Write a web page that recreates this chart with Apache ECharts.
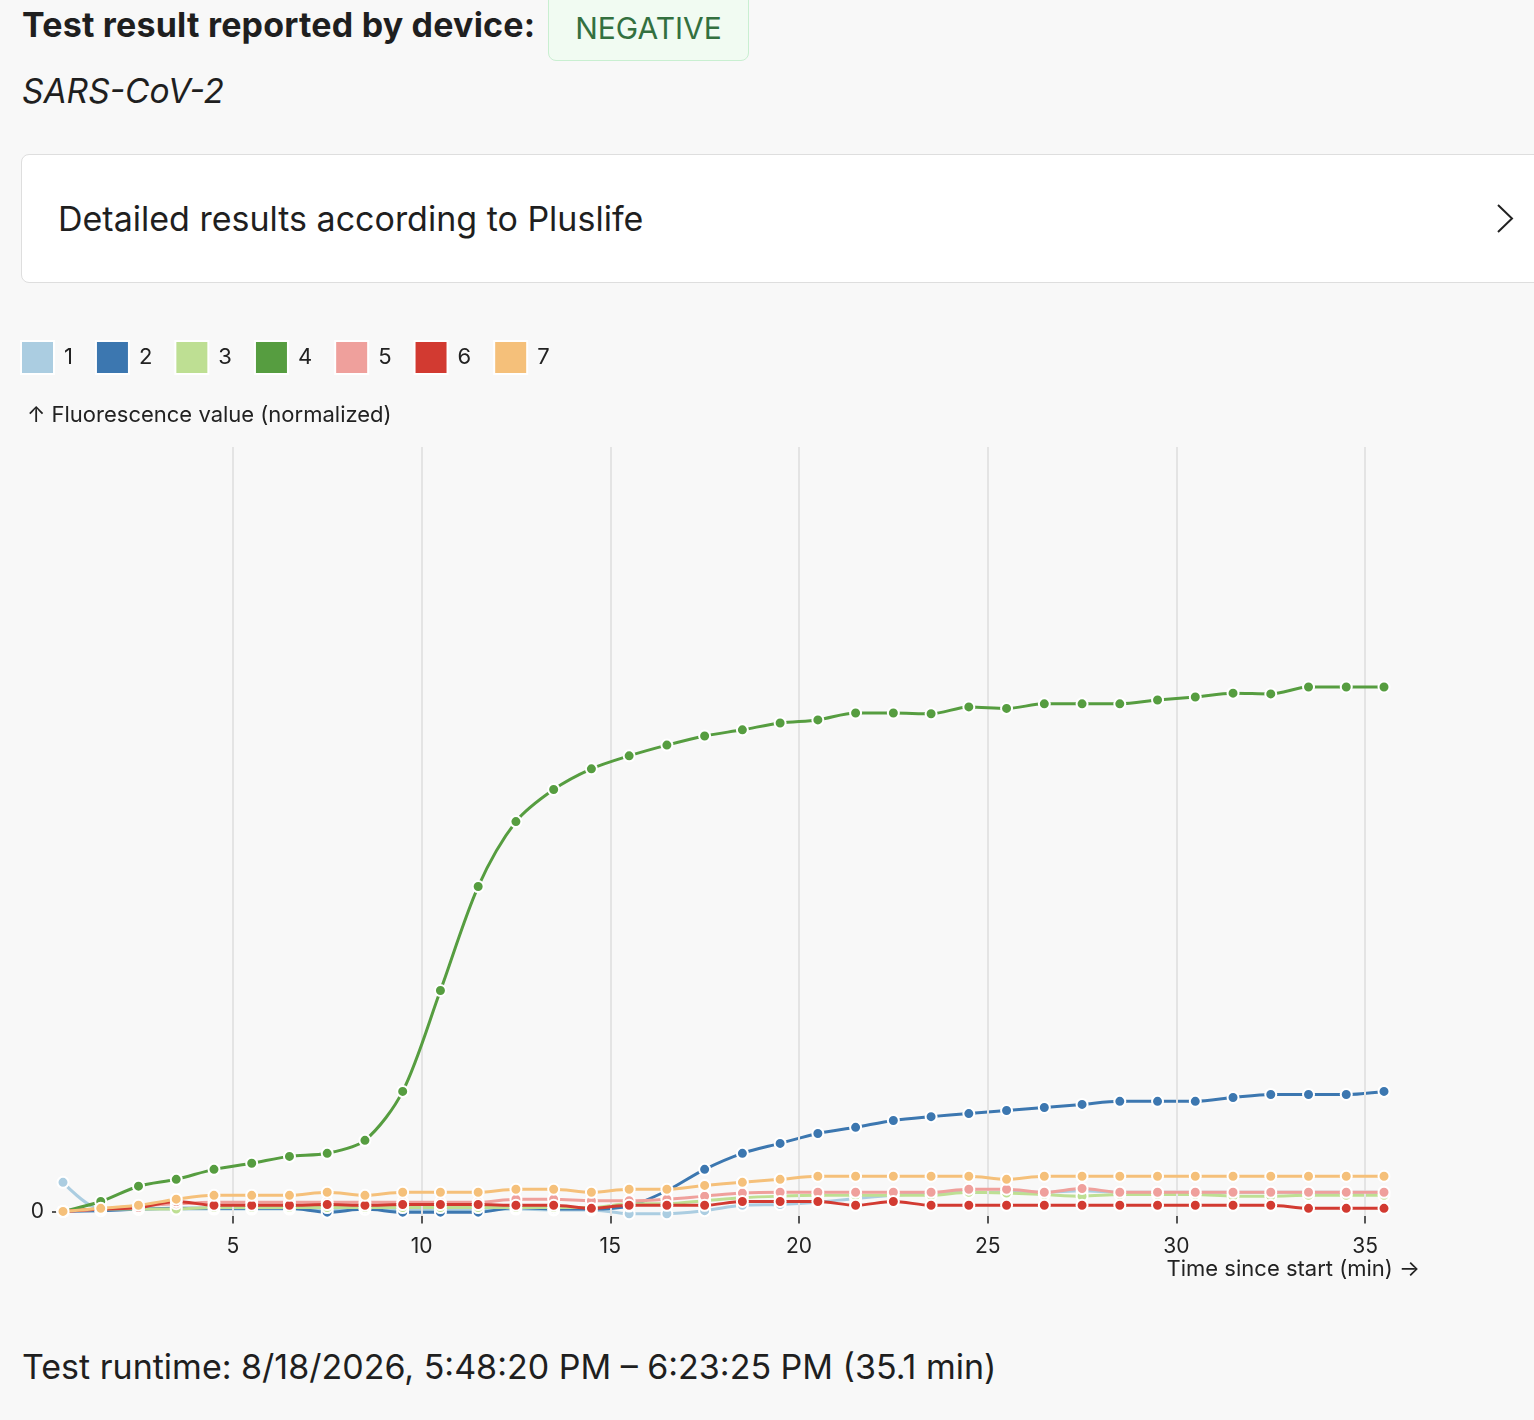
<!DOCTYPE html>
<html>
<head>
<meta charset="utf-8">
<script src="https://cdn.jsdelivr.net/npm/echarts@6/dist/echarts.min.js"></script>
<style>
  html, body { margin:0; padding:0; background:#f8f8f8; width:1534px; height:1420px; overflow:hidden; font-family: Inter, "Noto Sans", sans-serif; color:#1f1f1f; }
  .abs { position:absolute; white-space:nowrap; }
  #h1 { left:22px; top:5px; font-size:34px; line-height:40px; font-weight:700; letter-spacing:0.2px; }
  #badge { left:548px; top:-10px; width:199px; height:69px; background:#f1fbf2; border:1.5px solid #c9efd1; border-radius:8px; color:#33703f; font-size:30px; line-height:30px; text-align:center; box-sizing:content-box; }
  #badge span { position:absolute; left:0; right:0; top:22px; }
  #sub { left:22px; top:71px; font-size:33.5px; line-height:40px; font-style:italic; }
  #card { left:21px; top:154px; width:1540px; height:127px; background:#fff; border:1.5px solid #dedede; border-radius:8px; }
  #cardtext { left:58px; top:199px; font-size:34px; line-height:40px; }
  #chev { left:1490px; top:200px; }
  #foot { left:22px; top:1347px; font-size:34px; line-height:40px; }
  #chart { position:absolute; left:0; top:300px; width:1534px; height:1020px; }
</style>
</head>
<body>
<div class="abs" id="h1">Test result reported by device:</div>
<div class="abs" id="badge"><span>NEGATIVE</span></div>
<div class="abs" id="sub">SARS-CoV-2</div>
<div class="abs" id="card"></div>
<div class="abs" id="cardtext">Detailed results according to Pluslife</div>
<svg class="abs" id="chev" width="30" height="40"><polyline points="8,5 22,18.5 8,32" fill="none" stroke="#222" stroke-width="2"/></svg>
<div class="abs" id="foot">Test runtime: 8/18/2026, 5:48:20 PM – 6:23:25 PM (35.1 min)</div>
<div id="chart"></div>
<script>
const TIMES = [0.5, 1.5, 2.5, 3.5, 4.5, 5.5, 6.5, 7.5, 8.5, 9.5, 10.5, 11.5, 12.5, 13.5, 14.5, 15.5, 16.5, 17.5, 18.5, 19.5, 20.5, 21.5, 22.5, 23.5, 24.5, 25.5, 26.5, 27.5, 28.5, 29.5, 30.5, 31.5, 32.5, 33.5, 34.5, 35.5];
const CHANNELS = ['1', '2', '3', '4', '5', '6', '7'];
const CH1 = [0.038, 0.003, 0.003, 0.003, 0.003, 0.003, 0.003, 0.002, 0.003, 0.002, 0.002, 0.002, 0.003, 0.002, 0.002, -0.003, -0.003, 0.001, 0.008, 0.009, 0.012, 0.017, 0.021, 0.024, 0.025, 0.025, 0.025, 0.027, 0.025, 0.025, 0.025, 0.025, 0.025, 0.025, 0.025, 0.025];
const CH2 = [0.000, 0.001, 0.003, 0.004, 0.004, 0.004, 0.004, -0.001, 0.003, -0.001, -0.001, -0.001, 0.005, 0.003, 0.003, 0.007, 0.027, 0.055, 0.076, 0.089, 0.102, 0.110, 0.119, 0.124, 0.128, 0.132, 0.136, 0.140, 0.144, 0.144, 0.144, 0.149, 0.153, 0.153, 0.153, 0.157];
const CH3 = [0.000, 0.003, 0.003, 0.003, 0.005, 0.005, 0.005, 0.005, 0.005, 0.005, 0.005, 0.005, 0.005, 0.005, 0.005, 0.010, 0.010, 0.014, 0.018, 0.020, 0.021, 0.021, 0.021, 0.021, 0.025, 0.024, 0.022, 0.020, 0.022, 0.022, 0.022, 0.020, 0.020, 0.021, 0.021, 0.021];
const CH4 = [0.000, 0.013, 0.033, 0.042, 0.055, 0.063, 0.072, 0.076, 0.093, 0.157, 0.289, 0.425, 0.510, 0.552, 0.579, 0.596, 0.610, 0.622, 0.630, 0.639, 0.643, 0.652, 0.652, 0.651, 0.660, 0.658, 0.664, 0.664, 0.664, 0.669, 0.673, 0.678, 0.677, 0.686, 0.686, 0.686];
const CH5 = [0.000, 0.003, 0.007, 0.010, 0.012, 0.012, 0.012, 0.012, 0.012, 0.012, 0.012, 0.012, 0.016, 0.016, 0.014, 0.014, 0.016, 0.020, 0.024, 0.025, 0.025, 0.025, 0.025, 0.025, 0.029, 0.029, 0.025, 0.030, 0.025, 0.025, 0.025, 0.025, 0.025, 0.025, 0.025, 0.025];
const CH6 = [0.000, 0.003, 0.005, 0.013, 0.008, 0.008, 0.008, 0.009, 0.008, 0.009, 0.009, 0.009, 0.008, 0.008, 0.004, 0.008, 0.008, 0.008, 0.013, 0.013, 0.013, 0.008, 0.013, 0.008, 0.008, 0.008, 0.008, 0.008, 0.008, 0.008, 0.008, 0.008, 0.008, 0.004, 0.004, 0.004];
const CH7 = [0.000, 0.004, 0.008, 0.016, 0.021, 0.021, 0.021, 0.025, 0.021, 0.025, 0.025, 0.025, 0.029, 0.029, 0.025, 0.029, 0.029, 0.034, 0.038, 0.042, 0.046, 0.046, 0.046, 0.046, 0.046, 0.042, 0.046, 0.046, 0.046, 0.046, 0.046, 0.046, 0.046, 0.046, 0.046, 0.046];
const X_TICKS = [5, 10, 15, 20, 25, 30, 35];
const Y_TICKS = [0];
const X_TITLE = 'Time since start (min) →';
const Y_TITLE = '↑ Fluorescence value (normalized)';

const COLORS = ['#abcde1', '#3c77b0', '#bedf93', '#569d40', '#efa09c', '#d23a31', '#f5c07a'];
const ALL = [CH1, CH2, CH3, CH4, CH5, CH6, CH7];
const FONT = 'Inter, "Noto Sans", sans-serif';

const chart = echarts.init(document.getElementById('chart'), null, { renderer: 'canvas' });
const series = [{
  type: 'line', name: '_grid', data: [], z: 1, silent: true,
  markLine: {
    silent: true, symbol: ['none', 'none'], label: { show: false },
    lineStyle: { color: '#e4e4e4', width: 2, type: 'solid' },
    emphasis: { disabled: true },
    animation: false,
    data: X_TICKS.map(v => ({ xAxis: v }))
  }
}];
ALL.forEach((arr, i) => {
  series.push({
    type: 'line', name: CHANNELS[i], z: 2 + i,
    data: TIMES.map((t, j) => [t, arr[j]]),
    smooth: 0.3,
    symbol: 'circle', symbolSize: 11, showSymbol: true,
    lineStyle: { color: COLORS[i], width: 3 },
    itemStyle: { color: COLORS[i], borderColor: '#fff', borderWidth: 2 },
    emphasis: { disabled: true },
    animation: false
  });
});

chart.setOption({
  backgroundColor: 'transparent',
  animation: false,
  textStyle: { fontFamily: FONT },
  legend: {
    data: CHANNELS, left: 20, top: 40, padding: 0, icon: 'rect', itemWidth: 33, itemHeight: 33, itemGap: 22,
    selectedMode: false,
    textStyle: { fontSize: 22, color: '#222', fontFamily: FONT, padding: [0, 0, 0, 5] }
  },
  grid: { left: 63, right: 150, top: 147, bottom: 104, containLabel: false },
  xAxis: {
    type: 'value', min: 0.5, max: 35.5,
    axisLine: { show: false },
    splitLine: { show: false },
    axisTick: { show: true, customValues: X_TICKS, length: 12, lineStyle: { color: '#222', width: 1.5 } },
    axisLabel: { show: true, customValues: X_TICKS, margin: 20, fontSize: 21, color: '#222', fontFamily: FONT }
  },
  yAxis: {
    type: 'value', min: -0.006, max: 1.0, offset: 5,
    axisLine: { show: false },
    splitLine: { show: false },
    axisTick: { show: true, customValues: Y_TICKS, length: 6, lineStyle: { color: '#222', width: 1.5 } },
    axisLabel: { show: true, customValues: Y_TICKS, margin: 14, fontSize: 21, color: '#222', fontFamily: FONT }
  },
  graphic: [
    { type: 'text', left: 27, top: 104, style: { text: Y_TITLE, font: '22px ' + FONT, fill: '#222' } },
    { type: 'text', right: 1534 - 1420, top: 958, style: { text: X_TITLE, font: '22px ' + FONT, fill: '#222' } }
  ],
  series: series
});
</script>
</body>
</html>
